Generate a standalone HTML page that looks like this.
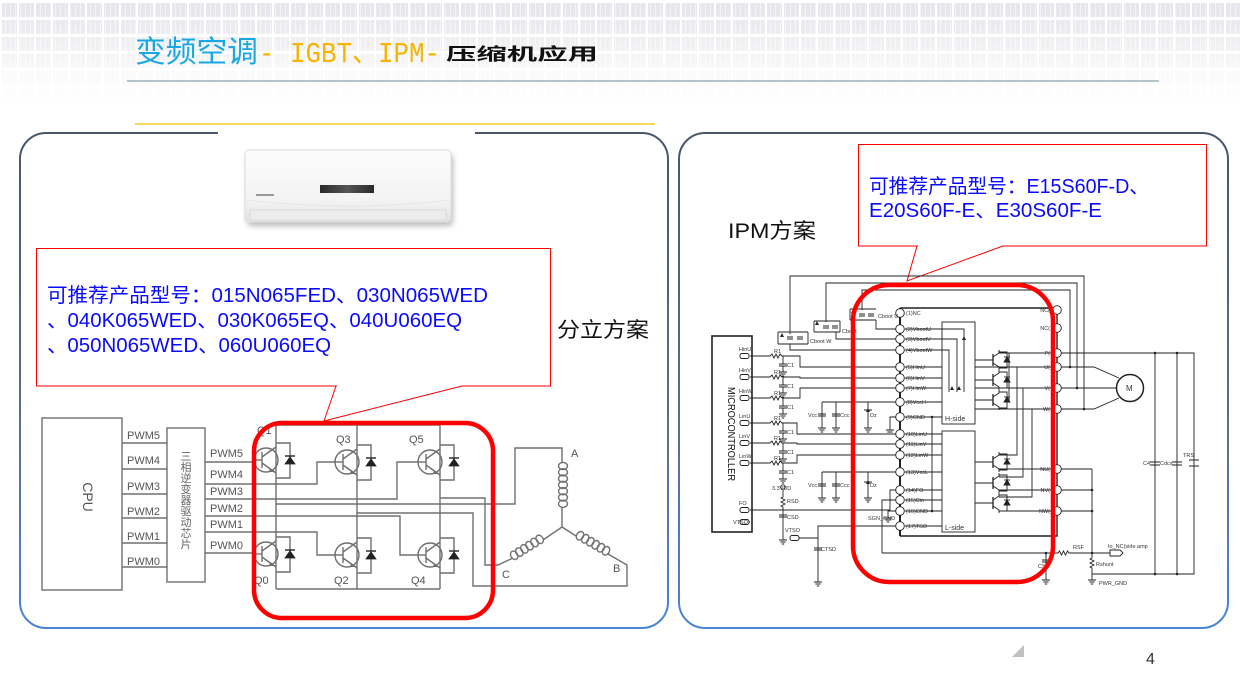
<!DOCTYPE html>
<html><head><meta charset="utf-8">
<style>
html,body{margin:0;padding:0;width:1240px;height:690px;overflow:hidden;background:#fff;}
.bg{position:absolute;left:0;top:0;width:1240px;height:110px;
background:
 linear-gradient(to bottom, rgba(255,255,255,0.15) 0px, rgba(255,255,255,0.45) 35px, rgba(255,255,255,0.85) 75px, #fff 105px),
 repeating-linear-gradient(90deg, #fff 0 2px, transparent 2px 17px),
 repeating-linear-gradient(180deg, #fff 0 3px, transparent 3px 17px),
 repeating-linear-gradient(90deg, rgba(255,255,255,0.5) 0 1px, transparent 1px 5px),
 #e0e0e6;}
svg{position:absolute;left:0;top:0;}
</style></head><body>
<div class="bg"></div>
<svg width="1240" height="690" viewBox="0 0 1240 690" xmlns="http://www.w3.org/2000/svg">
<defs>
<linearGradient id="pg" gradientUnits="userSpaceOnUse" x1="0" y1="133" x2="0" y2="630">
<stop offset="0" stop-color="#4a566c"/><stop offset="0.6" stop-color="#5a6e90"/><stop offset="1" stop-color="#4a84d6"/>
</linearGradient>
<linearGradient id="ac" x1="0" y1="0" x2="0" y2="1">
<stop offset="0" stop-color="#fdfdfd"/><stop offset="0.7" stop-color="#f3f3f3"/><stop offset="1" stop-color="#e2e2e2"/>
</linearGradient>
<linearGradient id="disp" x1="0" y1="0" x2="1" y2="0">
<stop offset="0" stop-color="#2a2a2a"/><stop offset="0.5" stop-color="#555"/><stop offset="1" stop-color="#2a2a2a"/>
</linearGradient>
<filter id="sh" x="-20%" y="-40%" width="140%" height="180%"><feGaussianBlur stdDeviation="3"/></filter>
<g id="tr" fill="none" stroke="#6e6e6e" stroke-width="1.4">
<circle r="12"/>
<line x1="-4" y1="-8" x2="-4" y2="8"/>
<line x1="-12" y1="0" x2="-4" y2="0"/>
<path d="M-4,-3 L10,-13 M-4,3 L10,13"/>
<path d="M10,-17 H24 V18 H10"/>
<path d="M19,4 H29 L24,-3 Z" fill="#222" stroke="#222" stroke-width="0.8"/>
<line x1="19" y1="-4" x2="29" y2="-4" stroke="#222"/>
<path d="M4,8 L8,12 L3,12 Z" fill="#6e6e6e" stroke="none"/>
</g>
<g id="ig" fill="none" stroke="#222" stroke-width="0.9">
<line x1="0" y1="-6" x2="0" y2="6" stroke-width="1.3"/>
<path d="M0,-3 L6,-7 V-10 M0,3 L6,7 V10"/>
<path d="M6,-8 H14 V8 H6"/>
<path d="M11,2 H17 L14,-3 Z" fill="#222"/>
<line x1="11" y1="-3" x2="17" y2="-3"/>
</g>
<g id="gnd" fill="none" stroke="#222" stroke-width="0.9">
<path d="M-4,0 H4 M-2.6,2 H2.6 M-1.2,4 H1.2"/>
</g>
</defs>
<style>
.f{font-family:"Liberation Sans","Noto Sans CJK SC",sans-serif;}
.t{font-family:"Liberation Sans","Noto Sans CJK SC",sans-serif;font-size:5.5px;fill:#333;}
</style>

<!-- Title -->
<text x="135" y="62" class="f" font-size="30" fill="#19a8e2" textLength="123" lengthAdjust="spacingAndGlyphs">变频空调</text>
<text x="259" y="62" font-family="Liberation Mono, Noto Sans CJK SC, monospace" font-size="29" fill="#f6b400" textLength="181" lengthAdjust="spacingAndGlyphs">- IGBT、IPM-</text>
<text x="446" y="60" font-family="Noto Sans CJK SC, sans-serif" font-weight="bold" font-size="17" fill="#111" textLength="152" lengthAdjust="spacingAndGlyphs">压缩机应用</text>
<line x1="127" y1="81" x2="1159" y2="81" stroke="#86a2ab" stroke-width="1.2"/>
<line x1="135" y1="124" x2="655" y2="124" stroke="#f7c000" stroke-width="1.3"/>

<!-- Panels -->
<rect x="20" y="133" width="648" height="495" rx="26" fill="#fff" stroke="url(#pg)" stroke-width="2"/>
<rect x="679" y="133" width="549" height="495" rx="26" fill="#fff" stroke="url(#pg)" stroke-width="2"/>
<rect x="218" y="129" width="257" height="8" fill="#fff"/>

<!-- AC unit -->
<rect x="247" y="154" width="206" height="72" rx="5" fill="#bbb" filter="url(#sh)"/>
<rect x="245" y="150" width="206" height="72" rx="4" fill="url(#ac)" stroke="#dcdcdc"/>
<path d="M246,200 Q348,212 450,200" fill="none" stroke="#e6e6e6"/>
<rect x="250" y="210" width="196" height="10" fill="#ececec" stroke="#d6d6d6" stroke-width="0.8"/>
<rect x="320" y="185" width="54" height="8" fill="url(#disp)"/>
<rect x="256" y="194" width="18" height="2" fill="#999"/>

<!-- Left callout -->
<rect x="36.5" y="248.5" width="514" height="137.5" fill="#fff" stroke="#f00" stroke-width="1"/>
<line x1="337" y1="386" x2="461" y2="386" stroke="#fff" stroke-width="2"/>
<polyline points="336,386 324,421 462,386" fill="none" stroke="#f00" stroke-width="1"/>
<text x="47" y="302" class="f" font-size="20" fill="#0a0aff" textLength="441" lengthAdjust="spacingAndGlyphs">可推荐产品型号：015N065FED、030N065WED</text>
<text x="47" y="327" class="f" font-size="20" fill="#0a0aff" textLength="415" lengthAdjust="spacingAndGlyphs">、040K065WED、030K065EQ、040U060EQ</text>
<text x="47" y="352" class="f" font-size="20" fill="#0a0aff" textLength="284" lengthAdjust="spacingAndGlyphs">、050N065WED、060U060EQ</text>
<text x="557" y="337" class="f" font-size="21" fill="#111" textLength="92" lengthAdjust="spacingAndGlyphs">分立方案</text>

<!-- Left schematic -->
<g fill="none" stroke="#707070" stroke-width="1.4">
<rect x="42" y="418" width="80" height="172"/>
<rect x="167" y="428" width="38" height="154"/>
<path d="M122,443 H167 M122,469 H167 M122,494 H167 M122,518 H167 M122,543 H167 M122,567 H167"/>
<path d="M205,462 H254 M205,484 H317 V462 H335 M205,499 H397 V462 H418 M205,516 H400 V555 H418 M205,532 H317 V555 H335 M205,553 H254"/>
<path d="M276,425 H440 M276,589 H440 M276,425 V589 M357,425 V589 M440,425 V589"/>
<path d="M276,504 H515 V448 H562 V463 M562,507 V527"/>
<path d="M357,513 H473 V586 H627 V565 L608,554"/>
<path d="M440,498 H485 V565 H498 L513,558 M543,540 L562,527 L576,536"/>
<g>
<ellipse cx="563" cy="466" rx="4.5" ry="3.6"/><ellipse cx="563" cy="472.3" rx="4.5" ry="3.6"/><ellipse cx="563" cy="478.6" rx="4.5" ry="3.6"/><ellipse cx="563" cy="484.9" rx="4.5" ry="3.6"/><ellipse cx="563" cy="491.2" rx="4.5" ry="3.6"/><ellipse cx="563" cy="497.5" rx="4.5" ry="3.6"/><ellipse cx="563" cy="503.8" rx="4.5" ry="3.6"/>
</g>
<g transform="translate(528,549) rotate(-32)">
<ellipse cx="-15" cy="-2" rx="3.4" ry="4.5"/><ellipse cx="-9" cy="-2" rx="3.4" ry="4.5"/><ellipse cx="-3" cy="-2" rx="3.4" ry="4.5"/><ellipse cx="3" cy="-2" rx="3.4" ry="4.5"/><ellipse cx="9" cy="-2" rx="3.4" ry="4.5"/><ellipse cx="15" cy="-2" rx="3.4" ry="4.5"/>
</g>
<g transform="translate(592,545) rotate(30)">
<ellipse cx="-15" cy="-2" rx="3.4" ry="4.5"/><ellipse cx="-9" cy="-2" rx="3.4" ry="4.5"/><ellipse cx="-3" cy="-2" rx="3.4" ry="4.5"/><ellipse cx="3" cy="-2" rx="3.4" ry="4.5"/><ellipse cx="9" cy="-2" rx="3.4" ry="4.5"/><ellipse cx="15" cy="-2" rx="3.4" ry="4.5"/>
</g>
</g>
<use href="#tr" x="266" y="460"/><use href="#tr" x="347" y="462"/><use href="#tr" x="430" y="462"/>
<use href="#tr" x="266" y="554"/><use href="#tr" x="347" y="555"/><use href="#tr" x="430" y="555"/>
<g class="f" font-size="11" fill="#555">
<text x="88" y="497" transform="rotate(90 88 497)" text-anchor="middle" font-size="14" dy="5">CPU</text>
<text x="127" y="439">PWM5</text><text x="127" y="464">PWM4</text><text x="127" y="490">PWM3</text>
<text x="127" y="515">PWM2</text><text x="127" y="540">PWM1</text><text x="127" y="565">PWM0</text>
<text x="210" y="457">PWM5</text><text x="210" y="478">PWM4</text><text x="210" y="495">PWM3</text>
<text x="210" y="512">PWM2</text><text x="210" y="528">PWM1</text><text x="210" y="549">PWM0</text>
<text x="257" y="434">Q1</text><text x="336" y="443">Q3</text><text x="409" y="443">Q5</text>
<text x="254" y="584">Q0</text><text x="334" y="584">Q2</text><text x="411" y="584">Q4</text>
<text x="571" y="457">A</text><text x="613" y="572">B</text><text x="502" y="578">C</text>
</g>
<g class="f" font-size="11" fill="#666" text-anchor="middle">
<text x="186" y="460">三</text><text x="186" y="471">相</text><text x="186" y="482">逆</text><text x="186" y="493">变</text><text x="186" y="504">器</text><text x="186" y="515">驱</text><text x="186" y="526">动</text><text x="186" y="537">芯</text><text x="186" y="548">片</text>
</g>
<rect x="254" y="423" width="239" height="195" rx="28" fill="none" stroke="#f00" stroke-width="4.5"/>

<!-- Right callout -->
<rect x="858.5" y="144.5" width="348" height="101.5" fill="#fff" stroke="#f00" stroke-width="1"/>
<line x1="918" y1="246" x2="1002" y2="246" stroke="#fff" stroke-width="2"/>
<polyline points="917,246 907,281 1003,246" fill="none" stroke="#f00" stroke-width="1"/>
<text x="869" y="193" class="f" font-size="20" fill="#0a0aff" textLength="280" lengthAdjust="spacingAndGlyphs">可推荐产品型号：E15S60F-D、</text>
<text x="869" y="217" class="f" font-size="20" fill="#0a0aff" textLength="233" lengthAdjust="spacingAndGlyphs">E20S60F-E、E30S60F-E</text>
<text x="728" y="238" class="f" font-size="21" fill="#111" textLength="88" lengthAdjust="spacingAndGlyphs">IPM方案</text>

<!-- IPM schematic -->
<g fill="none" stroke="#222" stroke-width="0.9">
<path d="M790,334 V276 H1084 V409 M826,322 V283 H1077 V388 M862,310 V290 H1070 V367"/>
<rect x="712" y="336" width="40" height="196" stroke-width="1.6"/>
<path d="M778,332 H808 M778,344 H808 M778,332 V344 M808,332 V344 M790,344 V350 H900"/>
<path d="M814,321 H840 M814,332 H840 M814,321 V332 M840,321 V332 M836,332 V339 H900"/>
<path d="M850,309 H876 M850,320 H876 M850,309 V320 M876,320 V329 H900"/>
<path d="M787,337 H793 M787,339 H793 M797,337 H803 M797,339 H803 M823,326 H829 M823,328 H829 M832,326 H838 M832,328 H838 M859,314 H865 M859,316 H865 M868,314 H874 M868,316 H874"/>
<path d="M750,356 H770 l2,-2 l2,4 l2,-4 l2,4 l2,-4 l2,2 H800 V367 H900"/>
<path d="M750,377 H770 l2,-2 l2,4 l2,-4 l2,4 l2,-4 l2,2 H800 V378 H900"/>
<path d="M750,398 H770 l2,-2 l2,4 l2,-4 l2,4 l2,-4 l2,2 H800 V388 H900"/>
<path d="M750,423 H770 l2,-2 l2,4 l2,-4 l2,4 l2,-4 l2,2 H797 V434 H900"/>
<path d="M750,443 H770 l2,-2 l2,4 l2,-4 l2,4 l2,-4 l2,2 H797 V444 H900"/>
<path d="M750,463 H770 l2,-2 l2,4 l2,-4 l2,4 l2,-4 l2,2 H797 V455 H900"/>
<path d="M822,402 H900 M822,402 V428 M836,402 V428 M868,402 V428 M818,414 H826 M818,416 H826 M832,414 H840 M832,416 H840"/>
<path d="M822,472 H900 M822,472 V498 M836,472 V498 M868,472 V498 M818,484 H826 M818,486 H826 M832,484 H840 M832,486 H840"/>
<path d="M864,410 H872 M864,482 H872"/>
<path d="M900,417 H890 V430 M750,510 H890 V490 H900 M900,500 H882 V553 M900,511 H888 V518 M900,526 H818 V582 M797,538 H818"/>
<path d="M783,490 V497 l-2,1 l4,2 l-4,2 l4,2 l-4,2 l2,1 V540"/>
<circle cx="783" cy="487" r="2.2"/>
<path d="M779,515 H787 M779,517 H787 M814,548 H822 M814,550 H822"/>
<path d="M750,522 H741"/>
<path d="M900,308 H1057 V536 H900" stroke-width="1.4"/>
<line x1="900" y1="308" x2="900" y2="536" stroke-width="2"/>
<rect x="942" y="322" width="33" height="102"/>
<rect x="942" y="431" width="33" height="101"/>
<path d="M905,329 H964 V392 M905,339 H957 V392 M905,350 H949 V392"/>
<path d="M905,367 H942 M905,378 H942 M905,388 H942 M905,402 H942 M905,417 H942 M905,434 H942 M905,444 H942 M905,455 H942 M905,472 H942 M905,490 H942 M905,500 H942 M905,511 H942 M905,526 H942 M932,417 V511"/>
<path d="M975,360 H993 M975,380 H993 M975,400 H993 M975,462 H993 M975,483 H993 M975,503 H993"/>
<path d="M999,353 H1057 M999,350 V353 M1009,353 V402 M975,367 H1057 M975,388 H1057 M975,409 H1057"/>
<path d="M1017,367 V455 H999 M1023,388 V477 H999 M1032,409 V497 H999 M999,469 H1057 M999,490 H1057 M999,511 H1057"/>
<path d="M1057,353 H1194 V574 H1092 M1155,353 V574 M1177,353 V574"/>
<path d="M1150,462 H1160 M1150,465 H1160 M1172,462 H1182 M1172,465 H1182 M1189,460 H1199 M1189,466 H1199"/>
<path d="M1057,367 H1094 L1119,378 M1057,388 H1116 M1057,409 H1094 L1119,398"/>
<circle cx="1130" cy="388" r="13.5" stroke-width="1.5"/>
<path d="M1057,469 H1092 M1057,490 H1092 M1057,511 H1092 M1092,469 V558 l-2,1 l4,2 l-4,2 l4,2 l-4,2 l2,1 V574"/>
<path d="M882,553 H1058 l1.5,-2 l2,4 l2,-4 l2,4 l2,-4 l1.5,2 H1110 M1046,553 V580 M1092,574 V580"/>
<path d="M1110,550 H1120 L1123,553 L1120,556 H1110 Z"/>
<path d="M1042,560 H1050 M1042,562 H1050"/>
</g>
<g fill="#222">
<circle cx="1092" cy="490" r="1.3"/><circle cx="1092" cy="511" r="1.3"/><circle cx="1092" cy="553" r="1.3"/><circle cx="1155" cy="353" r="1.3"/><circle cx="1177" cy="353" r="1.3"/><circle cx="1155" cy="574" r="1.3"/><circle cx="1177" cy="574" r="1.3"/><circle cx="1084" cy="409" r="1.3"/><circle cx="1077" cy="388" r="1.3"/><circle cx="1070" cy="367" r="1.3"/><circle cx="932" cy="511" r="1.3"/><circle cx="932" cy="417" r="1.3"/><circle cx="1046" cy="553" r="1.3"/>
<path d="M950,390 h4 l-2,-4 z M957,390 h4 l-2,-4 z M962,340 h4 l-2,-4 z M866,412 h4 l-2,-4 z M866,484 h4 l-2,-4 z M780,337 h4 l-2,-4 z M815,325 h4 l-2,-4 z M851,313 h4 l-2,-4 z"/>
</g>
<use href="#ig" x="993" y="360"/><use href="#ig" x="993" y="380"/><use href="#ig" x="993" y="400"/>
<use href="#ig" x="993" y="462"/><use href="#ig" x="993" y="483"/><use href="#ig" x="993" y="503"/>
<g fill="none" stroke="#222" stroke-width="0.9">
<path d="M783,356 V364 M779,364 H787 M779,366 H787 M783,366 V372"/>
<path d="M783,377 V385 M779,385 H787 M779,387 H787 M783,387 V393"/>
<path d="M783,398 V406 M779,406 H787 M779,408 H787 M783,408 V414"/>
<path d="M783,423 V431 M779,431 H787 M779,433 H787 M783,433 V439"/>
<path d="M783,443 V451 M779,451 H787 M779,453 H787 M783,453 V459"/>
<path d="M783,463 V471 M779,471 H787 M779,473 H787 M783,473 V479"/>
</g>
<g>
<use href="#gnd" x="783" y="372"/><use href="#gnd" x="783" y="393"/><use href="#gnd" x="783" y="414"/>
<use href="#gnd" x="783" y="439"/><use href="#gnd" x="783" y="459"/><use href="#gnd" x="783" y="479"/>
<use href="#gnd" x="822" y="428"/><use href="#gnd" x="836" y="428"/><use href="#gnd" x="868" y="428"/>
<use href="#gnd" x="822" y="498"/><use href="#gnd" x="836" y="498"/><use href="#gnd" x="868" y="498"/>
<use href="#gnd" x="890" y="430"/><use href="#gnd" x="888" y="518"/><use href="#gnd" x="818" y="582"/>
<use href="#gnd" x="783" y="540"/><use href="#gnd" x="1046" y="580"/><use href="#gnd" x="1092" y="580"/>
</g>
<g fill="#fff" stroke="#222" stroke-width="0.9">
<circle cx="900" cy="313" r="4.3"/><circle cx="900" cy="329" r="4.3"/><circle cx="900" cy="339" r="4.3"/><circle cx="900" cy="350" r="4.3"/><circle cx="900" cy="367" r="4.3"/><circle cx="900" cy="378" r="4.3"/><circle cx="900" cy="388" r="4.3"/><circle cx="900" cy="402" r="4.3"/><circle cx="900" cy="417" r="4.3"/><circle cx="900" cy="434" r="4.3"/><circle cx="900" cy="444" r="4.3"/><circle cx="900" cy="455" r="4.3"/><circle cx="900" cy="472" r="4.3"/><circle cx="900" cy="490" r="4.3"/><circle cx="900" cy="500" r="4.3"/><circle cx="900" cy="511" r="4.3"/><circle cx="900" cy="526" r="4.3"/>
<circle cx="1057" cy="310" r="4.3"/><circle cx="1057" cy="328" r="4.3"/><circle cx="1057" cy="353" r="4.3"/><circle cx="1057" cy="367" r="4.3"/><circle cx="1057" cy="388" r="4.3"/><circle cx="1057" cy="409" r="4.3"/><circle cx="1057" cy="469" r="4.3"/><circle cx="1057" cy="490" r="4.3"/><circle cx="1057" cy="511" r="4.3"/>
<rect x="740" y="353.5" width="9" height="5" rx="2"/><rect x="740" y="374.5" width="9" height="5" rx="2"/><rect x="740" y="395.5" width="9" height="5" rx="2"/><rect x="740" y="420.5" width="9" height="5" rx="2"/><rect x="740" y="440.5" width="9" height="5" rx="2"/><rect x="740" y="460.5" width="9" height="5" rx="2"/><rect x="740" y="507.5" width="9" height="5" rx="2"/><rect x="740" y="519.5" width="9" height="5" rx="2"/>
<rect x="790" y="535.5" width="9" height="5" rx="2"/>
</g>
<text x="732" y="434" transform="rotate(90 732 434)" text-anchor="middle" dy="4" class="f" font-size="10.5" fill="#111" textLength="94" lengthAdjust="spacingAndGlyphs">MICROCONTROLLER</text>
<g class="t">
<text x="906" y="315">(1)NC</text><text x="906" y="331">(2)VbootU</text><text x="906" y="341">(3)VbootV</text><text x="906" y="352">(4)VbootW</text>
<text x="906" y="369">(5)HinU</text><text x="906" y="380">(6)HinV</text><text x="906" y="390">(7)HinW</text><text x="906" y="404">(8)VccH</text>
<text x="906" y="419">(9)GND</text><text x="906" y="436">(10)LinU</text><text x="906" y="446">(11)LinV</text><text x="906" y="457">(12)LinW</text>
<text x="906" y="474">(13)VccL</text><text x="906" y="492">(14)FO</text><text x="906" y="502">(15)Cin</text><text x="906" y="513">(16)GND</text><text x="906" y="528">(17)TSO</text>
<text x="1050" y="312" text-anchor="end">NC(</text><text x="1050" y="330" text-anchor="end">NC(</text><text x="1050" y="355" text-anchor="end">P(</text><text x="1050" y="369" text-anchor="end">U(</text><text x="1050" y="390" text-anchor="end">V(</text><text x="1050" y="411" text-anchor="end">W(</text><text x="1050" y="471" text-anchor="end">NU(</text><text x="1050" y="492" text-anchor="end">NV(</text><text x="1050" y="513" text-anchor="end">NW(</text>
<text x="945" y="421" font-size="7">H-side</text><text x="945" y="530" font-size="7">L-side</text>
<text x="1126" y="391" font-size="8">M</text>
<text x="1143" y="465">C4</text><text x="1160" y="465">Cdcs</text><text x="1183" y="457">TRS</text>
<text x="1073" y="549">RSF</text><text x="1096" y="566">Rshunt</text><text x="1099" y="585">PWR_GND</text><text x="1108" y="548">Io_NC(side amp</text>
<text x="1038" y="568">CSF</text><text x="868" y="520">SGN_GND</text><text x="785" y="532">VTSO</text><text x="821" y="551">CTSD</text>
<text x="772" y="490">3.3VDD</text><text x="787" y="503">RSD</text><text x="787" y="519">CSD</text>
<text x="774" y="353">R1</text><text x="774" y="374">R1</text><text x="774" y="395">R1</text><text x="774" y="420">R1</text><text x="774" y="440">R1</text><text x="774" y="460">R1</text>
<text x="787" y="367">C1</text><text x="787" y="388">C1</text><text x="787" y="409">C1</text><text x="787" y="434">C1</text><text x="787" y="454">C1</text><text x="787" y="474">C1</text>
<text x="808" y="417">Vcc</text><text x="840" y="417">Ccc</text><text x="870" y="417">Dz</text><text x="808" y="487">Vcc</text><text x="840" y="487">Ccc</text><text x="870" y="487">Dz</text>
<text x="810" y="343">Cboot W</text><text x="842" y="333">Cboot</text><text x="878" y="318">Cboot U</text>
<text x="739" y="351">HinU</text><text x="739" y="372">HinV</text><text x="739" y="393">HinW</text><text x="739" y="418">LinU</text><text x="739" y="438">LinV</text><text x="739" y="458">LinW</text><text x="739" y="505">FO</text><text x="733" y="524">VTSO</text>
</g>
<rect x="853" y="285" width="200" height="297" rx="36" fill="none" stroke="#f00" stroke-width="4.5"/>

<!-- footer -->
<polygon points="1024,645 1024,657 1012,657" fill="#c0c0c0"/>
<text x="1146" y="664" class="f" font-size="16" fill="#333">4</text>
</svg>
</body></html>
